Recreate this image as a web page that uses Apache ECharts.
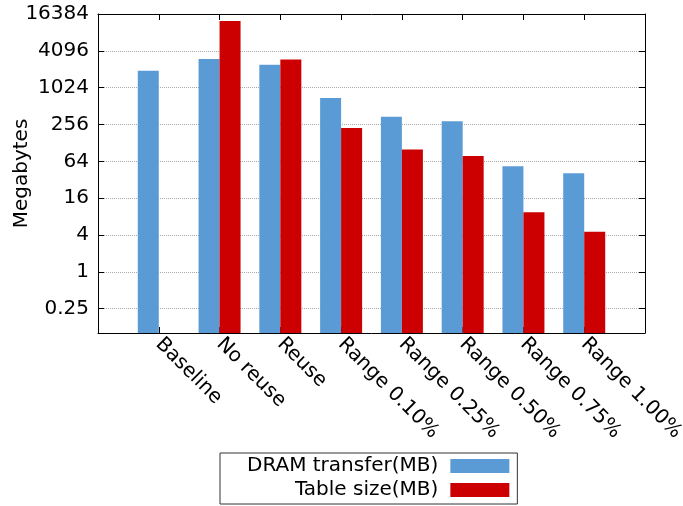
<!DOCTYPE html>
<html>
<head>
<meta charset="utf-8">
<script src="https://cdn.jsdelivr.net/npm/echarts@6/dist/echarts.min.js"></script>
<style>
  html, body { margin: 0; padding: 0; background: #fff; }
  #chart { width: 683px; height: 506px; }
</style>
</head>
<body>
<div id="chart"></div>
<script>
// Memory traffic vs. table size per configuration (log scale, MB)
const categories = ['Baseline', 'No reuse', 'Reuse', 'Range 0.10%', 'Range 0.25%', 'Range 0.50%', 'Range 0.75%', 'Range 1.00%'];
const dramTransfer = [1940, 3000, 2420, 694, 344, 288, 53, 41];
const tableSize = [null, 12600, 2950, 225, 100, 78, 9.4, 4.5];
const yTickValues = [0.25, 1, 4, 16, 64, 256, 1024, 4096, 16384];

const FONT = 'DejaVu Sans';
const FS = 20;
const toPoints = arr => arr.map((v, i) => [i, v]);

const yLabel = v => {
  const hit = yTickValues.find(t => Math.abs(t - v) / t < 1e-6);
  return hit === undefined ? '' : String(hit);
};

const xAxisBase = {
  type: 'value',
  min: -1,
  max: 8,
  interval: 1,
  splitLine: { show: false },
  axisLine: { show: true, onZero: false, lineStyle: { color: '#000', width: 1 } },
  axisTick: { show: true, inside: true, length: 6, lineStyle: { color: '#000' } }
};

const yAxisBase = {
  type: 'log',
  logBase: 4,
  min: 0.1,
  max: 16384,
  startValue: 0.1,
  axisLine: { show: true, onZero: false, lineStyle: { color: '#000', width: 1 } },
  axisTick: { show: true, inside: true, length: 6, lineStyle: { color: '#000' } }
};

const chart = echarts.init(document.getElementById('chart'), null, { renderer: 'canvas' });
chart.setOption({
  animation: false,
  backgroundColor: '#fff',
  textStyle: { fontFamily: FONT },
  grid: { left: 98, right: 38, top: 14, bottom: 173, containLabel: false, outerBoundsMode: 'none' },
  xAxis: [
    Object.assign({}, xAxisBase, {
      position: 'bottom',
      axisLabel: {
        rotate: -45,
        margin: 8,
        fontSize: FS,
        color: '#000',
        fontFamily: FONT,
        formatter: v => categories[v] || ''
      }
    }),
    Object.assign({}, xAxisBase, {
      position: 'top',
      axisLabel: { show: false }
    })
  ],
  yAxis: [
    Object.assign({}, yAxisBase, {
      position: 'left',
      name: 'Megabytes',
      nameLocation: 'middle',
      nameRotate: 90,
      nameGap: 66,
      nameMoveOverlap: false,
      nameTextStyle: { fontSize: FS, color: '#000', fontFamily: FONT },
      axisLabel: { fontSize: FS, color: '#000', margin: 9, fontFamily: FONT, formatter: yLabel },
      splitLine: { show: true, lineStyle: { color: '#a8a8a8', width: 1, type: [1, 1] } }
    }),
    Object.assign({}, yAxisBase, {
      position: 'right',
      axisLabel: { show: false },
      splitLine: { show: false }
    })
  ],
  legend: {
    orient: 'vertical',
    left: 220,
    top: 453,
    align: 'right',
    itemWidth: 59,
    itemHeight: 14,
    itemGap: 4,
    padding: [3, 8, 4, 27],
    borderColor: '#333',
    borderWidth: 1,
    icon: 'rect',
    textStyle: { fontSize: FS, color: '#000', fontFamily: FONT, lineHeight: 20, padding: [0, 7, 0, 0] },
    data: ['DRAM transfer(MB)', 'Table size(MB)']
  },
  series: [
    {
      name: 'DRAM transfer(MB)',
      type: 'bar',
      xAxisIndex: 0,
      yAxisIndex: 0,
      barWidth: 21,
      barGap: '0%',
      itemStyle: { color: '#5b9bd5' },
      data: toPoints(dramTransfer)
    },
    {
      name: 'Table size(MB)',
      type: 'bar',
      xAxisIndex: 0,
      yAxisIndex: 0,
      barWidth: 21,
      barGap: '0%',
      itemStyle: { color: '#cc0000' },
      data: toPoints(tableSize)
    }
  ]
});
</script>
</body>
</html>
